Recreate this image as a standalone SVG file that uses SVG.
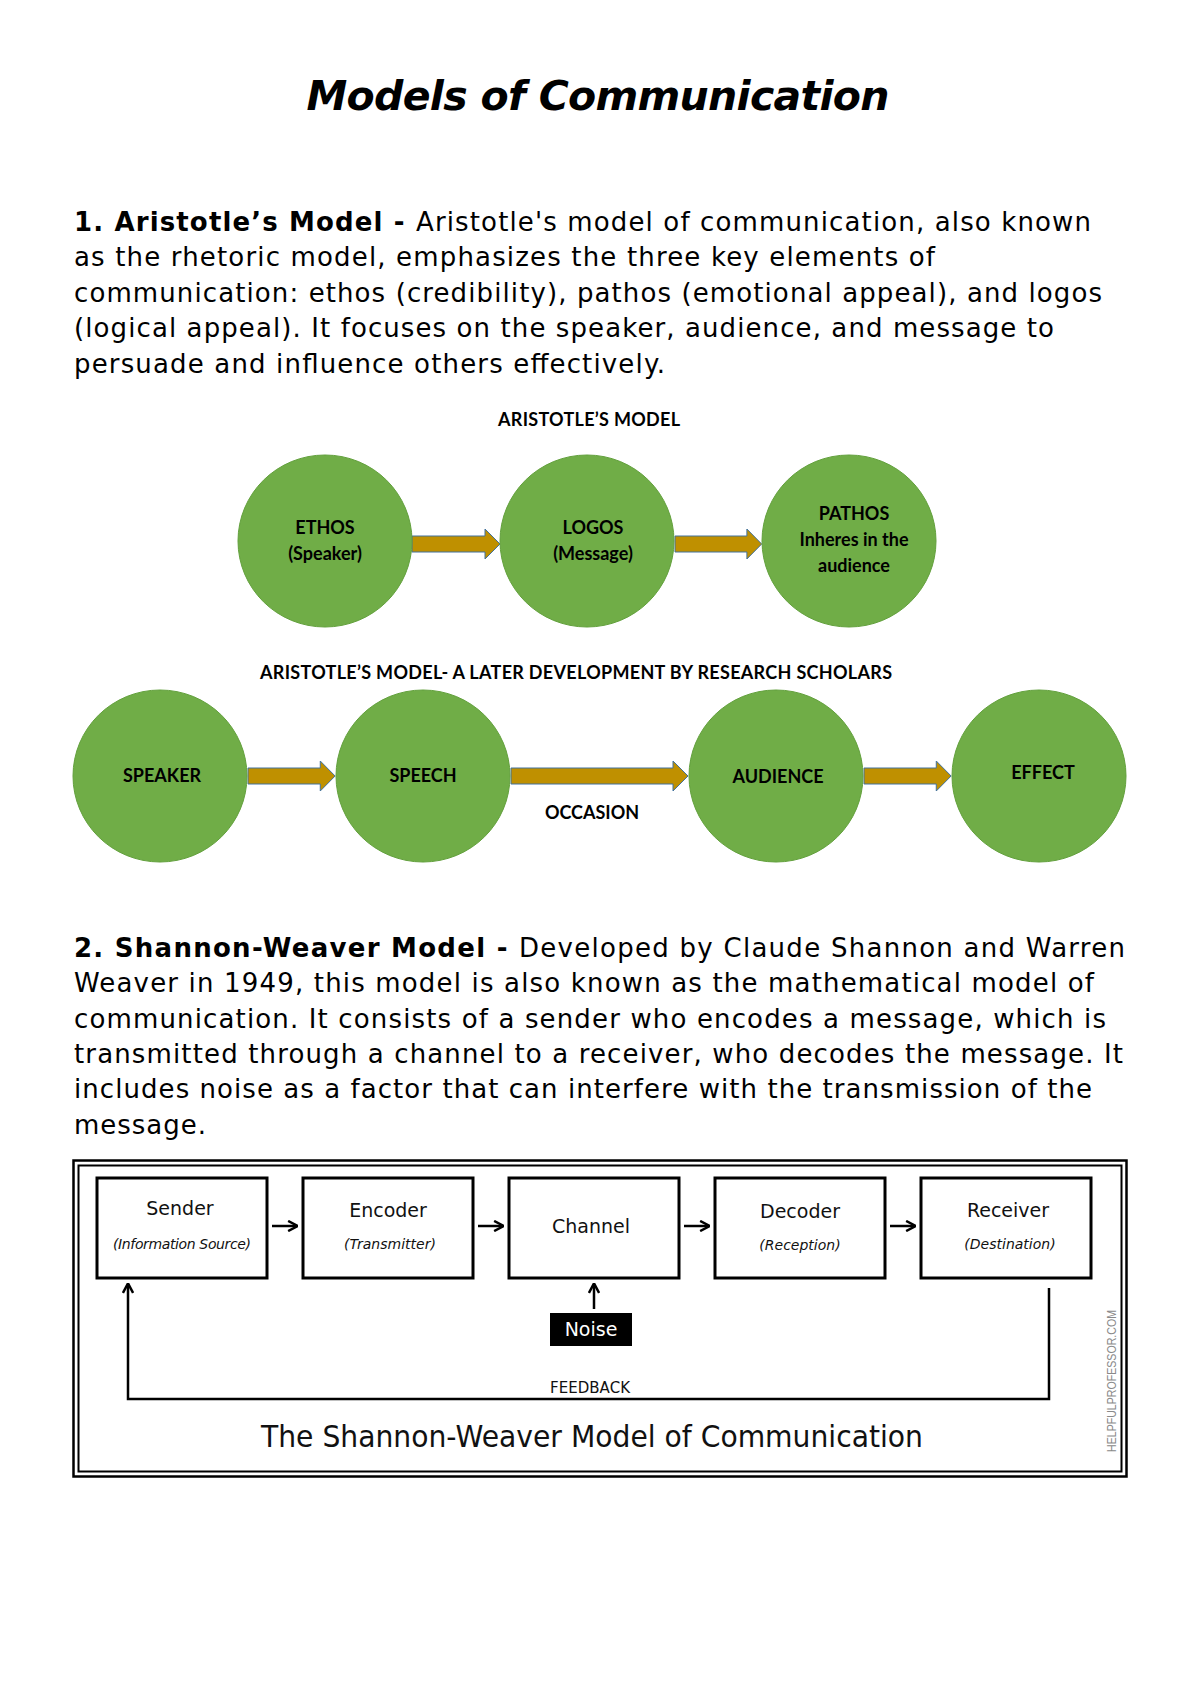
<svg xmlns="http://www.w3.org/2000/svg" width="1200" height="1696" viewBox="0 0 1200 1696">
<style>
.title{font-family:"DejaVu Sans",sans-serif;font-weight:bold;font-style:italic;font-size:41px;fill:#000}
.body{font-family:"DejaVu Sans",sans-serif;font-size:26px;fill:#000}
.b{font-weight:bold}
.cap{font-family:Lato,"Liberation Sans",sans-serif;font-weight:bold;font-size:18px;fill:#000}
.circ{fill:#70AD47;stroke:#62A03C;stroke-width:1}
.garrow{fill:#BF9000;stroke:#41719C;stroke-width:1}
.box{fill:#fff;stroke:#000;stroke-width:3}
.bt{font-family:"DejaVu Sans",sans-serif;font-size:19px;fill:#111}
.bi{font-family:"DejaVu Sans",sans-serif;font-style:italic;font-size:14px;fill:#111}
.ln{fill:none;stroke:#000;stroke-width:2.5}
</style>
<defs>
<marker id="ah" viewBox="0 0 10 10" refX="8" refY="5" markerWidth="4.5" markerHeight="4.5" orient="auto" markerUnits="strokeWidth">
<path d="M1,0.5 L9.5,5 L1,9.5" fill="none" stroke="#000" stroke-width="2.2"/>
</marker>
<path id="gar" d="M0,-8 L73,-8 L73,-15 L88,0 L73,15 L73,8 L0,8 z"/>
</defs>
<rect width="1200" height="1696" fill="#fff"/>

<text class="title" x="598" y="110" text-anchor="middle" textLength="583">Models of Communication</text>

<g id="text1" class="body">
<text x="74" y="231" textLength="1017"><tspan class="b">1. Aristotle’s Model - </tspan>Aristotle's model of communication, also known</text>
<text x="74" y="266" textLength="861">as the rhetoric model, emphasizes the three key elements of</text>
<text x="74" y="302" textLength="1028">communication: ethos (credibility), pathos (emotional appeal), and logos</text>
<text x="74" y="337" textLength="980">(logical appeal). It focuses on the speaker, audience, and message to</text>
<text x="74" y="373" textLength="591">persuade and influence others effectively.</text>
</g>

<text class="cap" x="589" y="426" text-anchor="middle" textLength="182">ARISTOTLE’S MODEL</text>

<g id="connectors1">
<use href="#gar" class="garrow" x="412" y="544"/>
<use href="#gar" class="garrow" transform="translate(675,544) scale(0.985,1)"/>
</g>
<g id="ethos"><ellipse class="circ" cx="325" cy="541" rx="87" ry="86"/>
<text class="cap" x="325" y="534" text-anchor="middle">ETHOS</text>
<text class="cap" x="325" y="560" text-anchor="middle">(Speaker)</text></g>
<g id="logos"><ellipse class="circ" cx="587" cy="541" rx="87" ry="86"/>
<text class="cap" x="593" y="534" text-anchor="middle">LOGOS</text>
<text class="cap" x="593" y="560" text-anchor="middle">(Message)</text></g>
<g id="pathos"><ellipse class="circ" cx="849" cy="541" rx="87" ry="86"/>
<text class="cap" x="854" y="520" text-anchor="middle">PATHOS</text>
<text class="cap" x="854" y="546" text-anchor="middle">Inheres in the</text>
<text class="cap" x="854" y="572" text-anchor="middle">audience</text></g>

<text class="cap" x="576" y="679" text-anchor="middle" textLength="632">ARISTOTLE’S MODEL- A LATER DEVELOPMENT BY RESEARCH SCHOLARS</text>

<g id="connectors2">
<use href="#gar" class="garrow" transform="translate(248,776) scale(0.99,1)"/>
<path class="garrow" d="M511,768 L673,768 L673,761 L688,776 L673,791 L673,784 L511,784 z"/>
<use href="#gar" class="garrow" transform="translate(864,776) scale(0.99,1)"/>
</g>
<g id="speaker"><ellipse class="circ" cx="160" cy="776" rx="87" ry="86"/>
<text class="cap" x="162" y="782" text-anchor="middle">SPEAKER</text></g>
<g id="speech"><ellipse class="circ" cx="423" cy="776" rx="87" ry="86"/>
<text class="cap" x="423" y="782" text-anchor="middle">SPEECH</text></g>
<g id="audience"><ellipse class="circ" cx="776" cy="776" rx="87" ry="86"/>
<text class="cap" x="778" y="783" text-anchor="middle">AUDIENCE</text></g>
<g id="effect"><ellipse class="circ" cx="1039" cy="776" rx="87" ry="86"/>
<text class="cap" x="1043" y="779" text-anchor="middle">EFFECT</text></g>
<text class="cap" x="592" y="819" text-anchor="middle">OCCASION</text>

<g id="text2" class="body">
<text x="74" y="957" textLength="1051"><tspan class="b">2. Shannon-Weaver Model - </tspan>Developed by Claude Shannon and Warren</text>
<text x="74" y="992" textLength="1020">Weaver in 1949, this model is also known as the mathematical model of</text>
<text x="74" y="1028" textLength="1032">communication. It consists of a sender who encodes a message, which is</text>
<text x="74" y="1063" textLength="1049">transmitted through a channel to a receiver, who decodes the message. It</text>
<text x="74" y="1098" textLength="1018">includes noise as a factor that can interfere with the transmission of the</text>
<text x="74" y="1134" textLength="132">message.</text>
</g>

<g id="frame">
<rect x="73.5" y="1160.5" width="1053" height="316" fill="#fff" stroke="#000" stroke-width="2.5"/>
<rect x="78.5" y="1165.5" width="1043" height="306" fill="none" stroke="#000" stroke-width="2"/>
</g>

<g id="sw-connectors">
<line class="ln" x1="272" y1="1226" x2="296" y2="1226" marker-end="url(#ah)"/>
<line class="ln" x1="478" y1="1226" x2="502" y2="1226" marker-end="url(#ah)"/>
<line class="ln" x1="684" y1="1226" x2="708" y2="1226" marker-end="url(#ah)"/>
<line class="ln" x1="890" y1="1226" x2="914" y2="1226" marker-end="url(#ah)"/>
<line class="ln" x1="594" y1="1309" x2="594" y2="1285" marker-end="url(#ah)"/>
<polyline class="ln" points="1049,1288 1049,1399 128,1399 128,1285" marker-end="url(#ah)"/>
</g>

<g id="sender"><rect class="box" x="97" y="1178" width="170" height="100"/>
<text class="bt" x="180" y="1215" text-anchor="middle">Sender</text>
<text class="bi" x="182" y="1249" text-anchor="middle" textLength="138">(Information Source)</text></g>
<g id="encoder"><rect class="box" x="303" y="1178" width="170" height="100"/>
<text class="bt" x="388" y="1217" text-anchor="middle">Encoder</text>
<text class="bi" x="390" y="1249" text-anchor="middle">(Transmitter)</text></g>
<g id="channel"><rect class="box" x="509" y="1178" width="170" height="100"/>
<text class="bt" x="591" y="1233" text-anchor="middle">Channel</text></g>
<g id="decoder"><rect class="box" x="715" y="1178" width="170" height="100"/>
<text class="bt" x="800" y="1218" text-anchor="middle">Decoder</text>
<text class="bi" x="800" y="1250" text-anchor="middle">(Reception)</text></g>
<g id="receiver"><rect class="box" x="921" y="1178" width="170" height="100"/>
<text class="bt" x="1008" y="1217" text-anchor="middle">Receiver</text>
<text class="bi" x="1010" y="1249" text-anchor="middle">(Destination)</text></g>
<g id="noise"><rect x="550" y="1313" width="82" height="33" fill="#000"/>
<text class="bt" x="591" y="1336" text-anchor="middle" style="fill:#fff">Noise</text></g>

<text x="590" y="1393" text-anchor="middle" font-family="DejaVu Sans,sans-serif" font-size="15" fill="#111" textLength="80">FEEDBACK</text>
<text x="592" y="1447" text-anchor="middle" font-family="DejaVu Sans,sans-serif" font-size="31" fill="#111" textLength="662" lengthAdjust="spacingAndGlyphs">The Shannon-Weaver Model of Communication</text>
<text transform="translate(1116,1381) rotate(-90)" text-anchor="middle" font-family="Liberation Sans,sans-serif" font-size="12" fill="#8a8a8a" textLength="142" lengthAdjust="spacingAndGlyphs">HELPFULPROFESSOR.COM</text>
</svg>
